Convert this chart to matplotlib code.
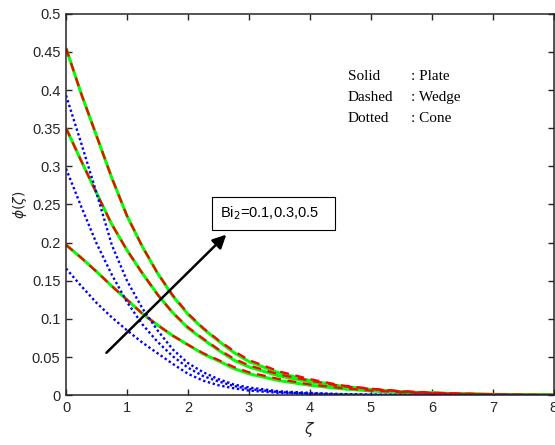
import matplotlib
matplotlib.use("Agg")
import matplotlib.pyplot as plt
from matplotlib.patches import Rectangle

# eta grid the values were read at
zeta = [0, 0.25, 0.5, 0.75, 1.0, 1.25, 1.5, 1.75, 2.0, 2.25, 2.5, 2.75, 3.0,
        3.5, 4.0, 4.5, 5.0, 5.5, 6.0, 6.5, 7.0, 7.5, 8.0]

# plate (solid), Bi2 = 0.1, 0.3, 0.5
plate_01 = [0.197, 0.180, 0.162, 0.143, 0.125, 0.107, 0.092, 0.078, 0.066, 0.054, 0.045, 0.035, 0.028,
            0.019, 0.013, 0.0085, 0.0055, 0.0035, 0.0022, 0.0014, 0.0008, 0.0004, 0.0002]
plate_03 = [0.350, 0.307, 0.265, 0.224, 0.190, 0.160, 0.132, 0.108, 0.088, 0.073, 0.059, 0.046, 0.037,
            0.025, 0.0175, 0.011, 0.007, 0.0042, 0.0027, 0.0016, 0.0009, 0.0004, 0.0002]
plate_05 = [0.455, 0.395, 0.340, 0.285, 0.235, 0.195, 0.160, 0.130, 0.106, 0.087, 0.071, 0.056, 0.044,
            0.029, 0.019, 0.012, 0.0075, 0.0045, 0.003, 0.0018, 0.001, 0.0005, 0.0002]

# wedge (dashed)
wedge_01 = [0.197, 0.180, 0.162, 0.143, 0.125, 0.107, 0.092, 0.078, 0.066, 0.055, 0.046, 0.037, 0.030,
            0.021, 0.014, 0.0095, 0.006, 0.004, 0.0025, 0.0015, 0.0009, 0.0005, 0.0002]
wedge_03 = [0.350, 0.307, 0.265, 0.224, 0.190, 0.160, 0.132, 0.108, 0.089, 0.074, 0.060, 0.048, 0.039,
            0.027, 0.019, 0.012, 0.008, 0.005, 0.003, 0.0018, 0.001, 0.0005, 0.0002]
wedge_05 = [0.455, 0.395, 0.340, 0.285, 0.235, 0.195, 0.160, 0.131, 0.107, 0.088, 0.072, 0.058, 0.046,
            0.031, 0.021, 0.013, 0.0085, 0.005, 0.0032, 0.002, 0.0011, 0.0006, 0.0002]

# cone (dotted)
cone_01 = [0.166, 0.143, 0.121, 0.102, 0.085, 0.069, 0.055, 0.041, 0.028, 0.019, 0.013, 0.009, 0.006,
           0.003, 0.0015, 0.0007, 0.0003, 0.0001, 0, 0, 0, 0, 0]
cone_03 = [0.297, 0.247, 0.199, 0.158, 0.122, 0.093, 0.070, 0.051, 0.036, 0.025, 0.018, 0.012, 0.008,
           0.004, 0.002, 0.001, 0.0005, 0.0002, 0.0001, 0, 0, 0, 0]
cone_05 = [0.393, 0.330, 0.265, 0.197, 0.150, 0.114, 0.085, 0.060, 0.042, 0.030, 0.021, 0.014, 0.010,
           0.005, 0.003, 0.0015, 0.0008, 0.0004, 0.0002, 0.0001, 0, 0, 0]

plate = [plate_01, plate_03, plate_05]
wedge = [wedge_01, wedge_03, wedge_05]
cone = [cone_01, cone_03, cone_05]

fig = plt.figure(figsize=(5.55, 4.45), dpi=100)
ax = fig.add_axes([0.119, 0.112, 0.879, 0.857])

for y in plate:
    ax.plot(zeta, y, color=(0, 1, 0), lw=2.2, solid_capstyle='butt')
for y in wedge:
    ax.plot(zeta, y, color=(1, 0, 0), lw=1.6, dashes=(4, 3))
for y in cone:
    ax.plot(zeta, y, color=(0, 0, 1), lw=1.7, linestyle=(0, (1, 1.1)))

ax.set_xlim(0, 8)
ax.set_ylim(0, 0.5)
ax.set_xticks(range(9))
ax.set_yticks([0, 0.05, 0.1, 0.15, 0.2, 0.25, 0.3, 0.35, 0.4, 0.45, 0.5])
ax.set_yticklabels(['0', '0.05', '0.1', '0.15', '0.2', '0.25', '0.3', '0.35', '0.4', '0.45', '0.5'])
ax.tick_params(direction='in', top=True, right=True, length=4, width=1,
               labelsize=10.5, colors='#262626', labelcolor='#262626', pad=4)
for lbl in ax.get_xticklabels() + ax.get_yticklabels():
    lbl.set_family('Liberation Sans')
for s in ax.spines.values():
    s.set_linewidth(1.1)
    s.set_color('#262626')

ax.set_xlabel(r'$\zeta$', fontsize=11, color='#262626', labelpad=4)
ax.set_ylabel(r'$\phi(\zeta)$', fontsize=10, color='#262626', labelpad=2)

# arrow + label box
ax.annotate('', xy=(2.66, 0.213), xytext=(0.63, 0.053),
            arrowprops=dict(arrowstyle='-|>', color='black', lw=1.8, mutation_scale=20))
ax.add_patch(Rectangle((2.393, 0.2165), 2.017, 0.0435, fc='white', ec='black', lw=0.8, zorder=4))
ax.text(2.525, 0.239, r'Bi$_2$=0.1,0.3,0.5', fontsize=10.5, family='Liberation Sans',
        va='center', zorder=5)

# style notes
for yy, a, b in [(0.418, 'Solid', ': Plate'), (0.3905, 'Dashed', ': Wedge'), (0.363, 'Dotted', ': Cone')]:
    ax.text(4.62, yy, a, fontsize=11, family='Liberation Serif', va='center')
    ax.text(5.65, yy, b, fontsize=11, family='Liberation Serif', va='center')

fig.savefig('out.png', dpi=100)
